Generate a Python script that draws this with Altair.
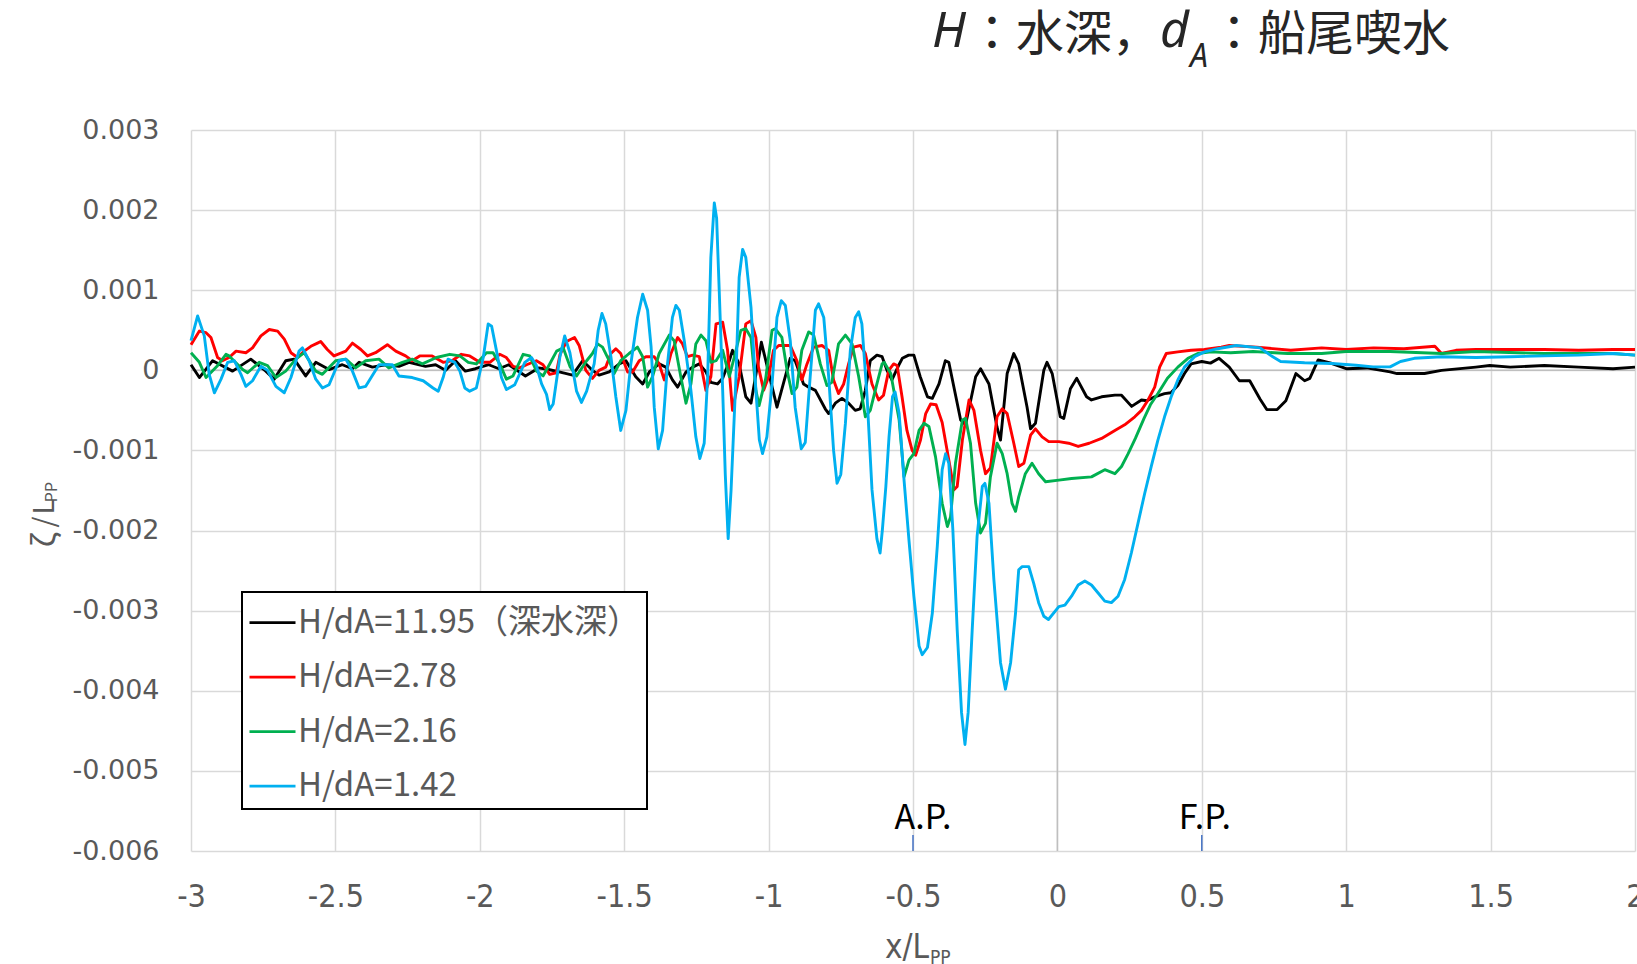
import altair as alt
import pandas as pd

# y values of the series are read in units of 0.001 (zeta / Lpp)
Y_UNIT = 1e-3

black_pts = [
    (-3.000, 0.07), (-2.971, -0.09), (-2.925, 0.12), (-2.856, -0.01), (-2.793, 0.14),
    (-2.741, -0.01), (-2.712, -0.11), (-2.672, 0.12), (-2.643, 0.14), (-2.603, -0.07),
    (-2.568, 0.10), (-2.522, 0.01), (-2.476, 0.07), (-2.441, 0.02), (-2.418, 0.10),
    (-2.372, 0.04), (-2.326, 0.07), (-2.280, 0.05), (-2.245, 0.10), (-2.188, 0.05),
    (-2.153, 0.07), (-2.119, 0.00), (-2.084, 0.12), (-2.050, -0.01), (-2.015, 0.02),
    (-1.969, 0.07), (-1.934, 0.02), (-1.900, 0.07), (-1.842, -0.07), (-1.796, 0.03),
    (-1.762, 0.01), (-1.725, -0.02), (-1.679, -0.06), (-1.644, 0.12), (-1.610, 0.00),
    (-1.587, -0.06), (-1.552, -0.02), (-1.517, 0.08), (-1.494, 0.12), (-1.460, -0.08),
    (-1.436, -0.17), (-1.413, -0.02), (-1.379, 0.08), (-1.356, 0.04), (-1.333, -0.12),
    (-1.315, -0.21), (-1.286, -0.02), (-1.263, 0.04), (-1.240, 0.08), (-1.217, -0.02),
    (-1.200, -0.15), (-1.177, -0.17), (-1.159, -0.10), (-1.136, 0.12), (-1.125, 0.25),
    (-1.102, 0.08), (-1.079, -0.33), (-1.061, -0.41), (-1.025, 0.35), (-0.971, -0.46),
    (-0.925, 0.15), (-0.908, 0.12), (-0.879, -0.17), (-0.861, -0.21), (-0.838, -0.25),
    (-0.804, -0.48), (-0.792, -0.54), (-0.769, -0.41), (-0.746, -0.35), (-0.723, -0.41),
    (-0.700, -0.50), (-0.683, -0.48), (-0.665, -0.25), (-0.648, 0.12), (-0.625, 0.19),
    (-0.607, 0.17), (-0.590, 0.00), (-0.573, -0.12), (-0.550, 0.06), (-0.537, 0.15),
    (-0.515, 0.19), (-0.497, 0.19), (-0.475, -0.08), (-0.450, -0.33), (-0.433, -0.35),
    (-0.410, -0.17), (-0.388, 0.12), (-0.376, 0.10), (-0.335, -0.62), (-0.318, -0.68),
    (-0.283, -0.08), (-0.266, 0.02), (-0.237, -0.17), (-0.209, -0.71), (-0.197, -0.87),
    (-0.174, -0.04), (-0.151, 0.21), (-0.134, 0.08), (-0.105, -0.46), (-0.093, -0.73),
    (-0.076, -0.66), (-0.047, 0.00), (-0.036, 0.10), (-0.018, -0.04), (0.010, -0.58),
    (0.022, -0.60), (0.045, -0.23), (0.067, -0.10), (0.101, -0.33), (0.118, -0.37),
    (0.153, -0.33), (0.199, -0.31), (0.222, -0.31), (0.257, -0.45), (0.291, -0.37),
    (0.310, -0.38), (0.337, -0.33), (0.371, -0.29), (0.393, -0.28), (0.417, -0.19),
    (0.440, -0.04), (0.463, 0.08), (0.500, 0.11), (0.530, 0.09), (0.560, 0.15),
    (0.595, 0.04), (0.630, -0.13), (0.666, -0.13), (0.702, -0.36), (0.725, -0.49),
    (0.761, -0.49), (0.791, -0.38), (0.826, -0.04), (0.856, -0.13), (0.874, -0.10),
    (0.903, 0.13), (0.951, 0.085), (1.000, 0.02), (1.071, 0.03), (1.152, -0.02),
    (1.176, -0.04), (1.271, -0.04), (1.330, 0.00), (1.449, 0.04), (1.497, 0.06),
    (1.568, 0.04), (1.686, 0.06), (1.805, 0.04), (1.924, 0.02), (2.000, 0.04),
]

red_pts = [
    (-3.000, 0.32), (-2.971, 0.49), (-2.948, 0.47), (-2.931, 0.41), (-2.908, 0.16),
    (-2.891, 0.12), (-2.868, 0.16), (-2.844, 0.24), (-2.810, 0.22), (-2.787, 0.28),
    (-2.758, 0.43), (-2.729, 0.51), (-2.700, 0.49), (-2.677, 0.39), (-2.654, 0.22),
    (-2.631, 0.16), (-2.608, 0.24), (-2.585, 0.30), (-2.562, 0.34), (-2.551, 0.36),
    (-2.528, 0.26), (-2.505, 0.18), (-2.464, 0.24), (-2.441, 0.34), (-2.412, 0.26),
    (-2.389, 0.18), (-2.361, 0.22), (-2.320, 0.32), (-2.291, 0.24), (-2.257, 0.18),
    (-2.234, 0.12), (-2.208, 0.18), (-2.165, 0.18), (-2.127, 0.10), (-2.096, 0.12),
    (-2.064, 0.20), (-2.035, 0.18), (-2.000, 0.10), (-1.965, 0.10), (-1.931, 0.20),
    (-1.908, 0.16), (-1.885, 0.05), (-1.862, 0.03), (-1.838, 0.07), (-1.804, 0.12),
    (-1.781, 0.07), (-1.758, -0.05), (-1.735, -0.03), (-1.722, 0.20), (-1.700, 0.36),
    (-1.672, 0.41), (-1.656, 0.31), (-1.633, 0.00), (-1.610, -0.10), (-1.587, 0.00),
    (-1.564, 0.04), (-1.546, 0.21), (-1.529, 0.27), (-1.512, 0.21), (-1.488, -0.02),
    (-1.471, -0.02), (-1.448, 0.12), (-1.425, 0.17), (-1.396, 0.17), (-1.379, 0.08),
    (-1.361, -0.12), (-1.338, 0.21), (-1.315, 0.41), (-1.298, 0.33), (-1.281, 0.17),
    (-1.263, 0.19), (-1.240, 0.17), (-1.217, -0.25), (-1.200, -0.08), (-1.182, 0.58),
    (-1.159, 0.60), (-1.142, 0.25), (-1.125, -0.50), (-1.102, -0.08), (-1.079, 0.58),
    (-1.061, 0.62), (-1.044, 0.41), (-1.035, 0.04), (-1.017, -0.25), (-1.000, -0.08),
    (-0.983, 0.25), (-0.965, 0.31), (-0.925, 0.31), (-0.902, 0.12), (-0.885, -0.12),
    (-0.867, 0.08), (-0.844, 0.29), (-0.815, 0.31), (-0.792, 0.25), (-0.775, -0.12),
    (-0.758, -0.29), (-0.740, -0.17), (-0.723, 0.08), (-0.706, 0.29), (-0.682, 0.31),
    (-0.665, 0.21), (-0.642, -0.17), (-0.619, -0.37), (-0.602, -0.31), (-0.584, 0.00),
    (-0.567, 0.08), (-0.555, 0.06), (-0.538, -0.33), (-0.521, -0.75), (-0.503, -1.00),
    (-0.491, -1.06), (-0.474, -0.87), (-0.456, -0.54), (-0.439, -0.42), (-0.420, -0.43),
    (-0.399, -0.65), (-0.376, -1.12), (-0.358, -1.49), (-0.347, -1.45), (-0.329, -0.87),
    (-0.306, -0.37), (-0.289, -0.50), (-0.266, -1.00), (-0.249, -1.29), (-0.232, -1.22),
    (-0.209, -0.58), (-0.191, -0.48), (-0.174, -0.54), (-0.151, -0.91), (-0.134, -1.20),
    (-0.116, -1.16), (-0.093, -0.81), (-0.076, -0.73), (-0.053, -0.83), (-0.030, -0.89),
    (0.005, -0.89), (0.039, -0.91), (0.072, -0.95), (0.110, -0.91), (0.153, -0.85),
    (0.199, -0.75), (0.233, -0.68), (0.268, -0.58), (0.291, -0.50), (0.314, -0.37),
    (0.337, -0.21), (0.354, 0.04), (0.377, 0.21), (0.417, 0.23), (0.463, 0.25),
    (0.509, 0.26), (0.567, 0.29), (0.595, 0.31), (0.690, 0.29), (0.808, 0.25),
    (0.915, 0.28), (1.000, 0.26), (1.095, 0.28), (1.200, 0.27), (1.307, 0.30),
    (1.330, 0.21), (1.380, 0.25), (1.449, 0.26), (1.568, 0.26), (1.686, 0.26),
    (1.805, 0.25), (1.924, 0.26), (2.000, 0.26),
]

green_pts = [
    (-3.000, 0.22), (-2.971, 0.10), (-2.948, -0.09), (-2.910, 0.05), (-2.879, 0.20),
    (-2.868, 0.18), (-2.821, 0.01), (-2.804, -0.03), (-2.764, 0.10), (-2.735, 0.06),
    (-2.706, -0.09), (-2.672, -0.01), (-2.637, 0.14), (-2.608, 0.22), (-2.568, -0.01),
    (-2.545, -0.05), (-2.499, 0.12), (-2.464, 0.14), (-2.430, 0.03), (-2.395, 0.12),
    (-2.349, 0.14), (-2.315, 0.03), (-2.268, 0.10), (-2.234, 0.14), (-2.199, 0.08),
    (-2.150, 0.16), (-2.104, 0.20), (-2.069, 0.18), (-2.040, 0.10), (-2.012, 0.08),
    (-1.977, 0.22), (-1.954, 0.22), (-1.931, 0.08), (-1.908, -0.11), (-1.885, -0.07),
    (-1.850, 0.20), (-1.827, 0.18), (-1.804, -0.01), (-1.781, -0.07), (-1.758, 0.08),
    (-1.734, 0.24), (-1.711, 0.28), (-1.688, 0.05), (-1.665, -0.07), (-1.630, 0.12),
    (-1.610, 0.21), (-1.592, 0.33), (-1.575, 0.29), (-1.552, 0.12), (-1.535, -0.04),
    (-1.512, 0.12), (-1.483, 0.21), (-1.454, 0.29), (-1.436, 0.17), (-1.419, -0.21),
    (-1.402, -0.08), (-1.379, 0.21), (-1.344, 0.44), (-1.327, 0.37), (-1.304, -0.08),
    (-1.286, -0.41), (-1.269, -0.17), (-1.252, 0.33), (-1.234, 0.44), (-1.217, 0.37),
    (-1.200, 0.10), (-1.182, 0.12), (-1.159, 0.25), (-1.136, -0.08), (-1.113, 0.25),
    (-1.096, 0.50), (-1.079, 0.52), (-1.061, 0.41), (-1.044, -0.25), (-1.033, -0.44),
    (-1.010, -0.10), (-0.988, 0.50), (-0.977, 0.52), (-0.954, 0.41), (-0.936, 0.00),
    (-0.919, -0.29), (-0.902, -0.21), (-0.885, 0.25), (-0.861, 0.48), (-0.844, 0.44),
    (-0.821, 0.08), (-0.798, -0.19), (-0.781, -0.15), (-0.758, 0.33), (-0.734, 0.44),
    (-0.711, 0.33), (-0.688, -0.08), (-0.665, -0.58), (-0.648, -0.50), (-0.625, -0.17),
    (-0.607, 0.08), (-0.600, 0.10), (-0.577, -0.04), (-0.548, -0.62), (-0.531, -1.33),
    (-0.514, -1.12), (-0.497, -1.04), (-0.479, -0.75), (-0.462, -0.66), (-0.445, -0.70),
    (-0.422, -1.08), (-0.399, -1.66), (-0.381, -1.95), (-0.370, -1.83), (-0.353, -1.16),
    (-0.329, -0.62), (-0.318, -0.60), (-0.301, -0.91), (-0.283, -1.66), (-0.266, -2.03),
    (-0.249, -1.91), (-0.232, -1.33), (-0.209, -0.91), (-0.191, -1.04), (-0.174, -1.29),
    (-0.157, -1.66), (-0.145, -1.76), (-0.134, -1.58), (-0.111, -1.29), (-0.088, -1.16),
    (-0.065, -1.29), (-0.041, -1.39), (0.005, -1.37), (0.049, -1.35), (0.118, -1.33),
    (0.164, -1.24), (0.199, -1.29), (0.222, -1.20), (0.245, -1.04), (0.270, -0.85),
    (0.300, -0.60), (0.322, -0.43), (0.348, -0.29), (0.381, -0.10), (0.417, 0.04),
    (0.452, 0.15), (0.486, 0.21), (0.532, 0.23), (0.600, 0.22), (0.678, 0.235),
    (0.797, 0.21), (0.915, 0.21), (1.000, 0.235), (1.152, 0.235), (1.330, 0.21),
    (1.449, 0.235), (1.686, 0.21), (1.924, 0.21), (2.000, 0.19),
]

blue_pts = [
    (-3.000, 0.37), (-2.977, 0.68), (-2.954, 0.43), (-2.937, -0.05), (-2.919, -0.28),
    (-2.896, -0.11), (-2.873, 0.10), (-2.850, 0.12), (-2.827, -0.05), (-2.810, -0.20),
    (-2.787, -0.13), (-2.758, 0.05), (-2.735, 0.00), (-2.706, -0.20), (-2.677, -0.28),
    (-2.654, -0.09), (-2.626, 0.24), (-2.614, 0.28), (-2.591, 0.12), (-2.568, -0.11),
    (-2.545, -0.22), (-2.522, -0.18), (-2.487, 0.12), (-2.464, 0.14), (-2.441, -0.01),
    (-2.418, -0.22), (-2.395, -0.20), (-2.349, 0.07), (-2.303, 0.07), (-2.280, -0.07),
    (-2.234, -0.09), (-2.196, -0.13), (-2.162, -0.22), (-2.144, -0.26), (-2.127, -0.09),
    (-2.110, 0.14), (-2.087, 0.10), (-2.069, -0.01), (-2.052, -0.22), (-2.035, -0.26),
    (-2.012, -0.22), (-1.988, 0.16), (-1.971, 0.58), (-1.959, 0.55), (-1.942, 0.24),
    (-1.925, -0.09), (-1.908, -0.24), (-1.879, -0.18), (-1.844, 0.10), (-1.821, 0.16),
    (-1.804, 0.06), (-1.786, -0.17), (-1.769, -0.30), (-1.758, -0.49), (-1.746, -0.42),
    (-1.723, 0.16), (-1.706, 0.43), (-1.688, 0.22), (-1.665, -0.26), (-1.648, -0.40),
    (-1.630, -0.26), (-1.604, 0.08), (-1.590, 0.50), (-1.577, 0.71), (-1.564, 0.58),
    (-1.546, 0.17), (-1.529, -0.33), (-1.512, -0.75), (-1.494, -0.50), (-1.477, 0.08),
    (-1.454, 0.66), (-1.436, 0.95), (-1.419, 0.75), (-1.407, 0.30), (-1.396, -0.46),
    (-1.382, -0.98), (-1.367, -0.75), (-1.350, 0.08), (-1.333, 0.66), (-1.321, 0.81),
    (-1.309, 0.75), (-1.292, 0.37), (-1.269, -0.25), (-1.252, -0.83), (-1.238, -1.10),
    (-1.223, -0.91), (-1.211, -0.08), (-1.200, 1.41), (-1.188, 2.09), (-1.180, 1.90),
    (-1.171, 1.00), (-1.159, -0.25), (-1.150, -1.30), (-1.140, -2.10), (-1.130, -1.50),
    (-1.113, -0.08), (-1.102, 1.16), (-1.090, 1.51), (-1.079, 1.41), (-1.061, 0.79),
    (-1.044, -0.25), (-1.032, -0.87), (-1.021, -1.04), (-1.006, -0.83), (-0.988, -0.17),
    (-0.971, 0.66), (-0.956, 0.87), (-0.942, 0.81), (-0.925, 0.37), (-0.908, -0.46),
    (-0.887, -0.98), (-0.873, -0.90), (-0.856, -0.08), (-0.838, 0.75), (-0.827, 0.83),
    (-0.809, 0.66), (-0.792, -0.08), (-0.775, -1.00), (-0.763, -1.41), (-0.750, -1.30),
    (-0.734, -0.66), (-0.717, 0.25), (-0.700, 0.66), (-0.688, 0.73), (-0.677, 0.58),
    (-0.659, -0.33), (-0.642, -1.49), (-0.625, -2.10), (-0.614, -2.28), (-0.606, -1.99),
    (-0.594, -1.45), (-0.583, -0.83), (-0.571, -0.33), (-0.562, -0.27), (-0.548, -0.54),
    (-0.531, -1.37), (-0.514, -2.12), (-0.497, -2.82), (-0.479, -3.44), (-0.468, -3.55),
    (-0.450, -3.46), (-0.433, -3.03), (-0.416, -2.20), (-0.399, -1.24), (-0.387, -1.04),
    (-0.376, -1.16), (-0.362, -1.99), (-0.347, -3.24), (-0.332, -4.27), (-0.320, -4.67),
    (-0.309, -4.27), (-0.295, -3.24), (-0.278, -2.07), (-0.260, -1.45), (-0.251, -1.41),
    (-0.237, -1.66), (-0.220, -2.61), (-0.197, -3.65), (-0.180, -3.98), (-0.162, -3.65),
    (-0.145, -3.03), (-0.134, -2.49), (-0.122, -2.45), (-0.099, -2.45), (-0.082, -2.66),
    (-0.065, -2.90), (-0.047, -3.07), (-0.031, -3.11), (0.005, -2.95), (0.026, -2.93),
    (0.049, -2.82), (0.072, -2.68), (0.095, -2.63), (0.118, -2.68), (0.141, -2.78),
    (0.164, -2.88), (0.187, -2.90), (0.210, -2.82), (0.233, -2.61), (0.256, -2.28),
    (0.279, -1.91), (0.302, -1.54), (0.325, -1.20), (0.348, -0.87), (0.371, -0.58),
    (0.394, -0.33), (0.417, -0.12), (0.440, 0.04), (0.475, 0.17), (0.509, 0.23),
    (0.555, 0.27), (0.619, 0.31), (0.702, 0.28), (0.737, 0.19), (0.773, 0.11),
    (0.856, 0.094), (0.951, 0.085), (1.034, 0.064), (1.093, 0.043), (1.152, 0.043),
    (1.188, 0.11), (1.236, 0.15), (1.330, 0.17), (1.449, 0.16), (1.568, 0.17),
    (1.686, 0.18), (1.805, 0.19), (1.924, 0.21), (2.000, 0.19),
]

series_labels = ["H/dA=11.95（深水深）", "H/dA=2.78", "H/dA=2.16", "H/dA=1.42"]
series_colors = ["#000000", "#FF0000", "#00B050", "#00B0F0"]
series_points = [black_pts, red_pts, green_pts, blue_pts]

x_ticks = [-3, -2.5, -2, -1.5, -1, -0.5, 0, 0.5, 1, 1.5, 2]
y_ticks = [-0.006, -0.005, -0.004, -0.003, -0.002, -0.001, 0, 0.001, 0.002, 0.003]

marker_x = [-0.5, 0.5]
marker_labels = ["A.P.", "F.P."]
marker_label_dx = [10, 3]
marker_label_y = [-0.0056, -0.0056]
marker_tick_top = [-0.0058, -0.0058]
marker_tick_bottom = [-0.006, -0.006]

CJK = "Noto Sans CJK JP"
COND = "'DejaVu Sans Condensed', 'Liberation Sans Narrow', 'Noto Sans CJK JP', sans-serif"
PLAIN = "'DejaVu Sans', 'Noto Sans CJK JP', sans-serif"
LABEL_GRAY = "#595959"

x_scale = alt.Scale(domain=[-3, 2], nice=False, zero=False)
y_scale = alt.Scale(domain=[-0.006, 0.003], nice=False, zero=False)

x_axis = alt.Axis(values=x_ticks, labelExpr="datum.value + ''", title=None,
                  grid=True, gridColor="#d9d9d9", gridWidth=1.5,
                  domain=False, ticks=False, labelFlush=False, labelOverlap=False,
                  labelFont=COND, labelFontSize=32,
                  labelColor=LABEL_GRAY, labelPadding=30)
y_axis = alt.Axis(values=y_ticks, labelExpr="datum.value + ''", title=None,
                  grid=True, gridColor="#d9d9d9", gridWidth=1.5,
                  domain=False, ticks=False, labelFlush=False, labelOverlap=False,
                  labelFont=PLAIN, labelFontSize=27, labelColor=LABEL_GRAY,
                  labelPadding=32)


def X(field):
    return alt.X(f"{field}:Q", scale=x_scale, axis=x_axis)


def Y(field):
    return alt.Y(f"{field}:Q", scale=y_scale, axis=y_axis)


legend = alt.Legend(title=None, orient="none", legendX=51, legendY=462,
                    symbolType="stroke", symbolSize=2116, symbolStrokeWidth=2.75,
                    labelFont=CJK, labelFontSize=33, labelColor=LABEL_GRAY,
                    labelExpr="datum.label + '\u2003\u2002'",
                    labelLimit=900, labelOffset=1, rowPadding=12.5, padding=6,
                    strokeColor="#000000", fillColor="#ffffff")
color_enc = alt.Color("series:N", scale=alt.Scale(domain=series_labels, range=series_colors),
                      sort=series_labels, legend=legend)

layers = []

# zero lines (axis crossings)
layers.append(alt.Chart(pd.DataFrame({"x": [0]})).mark_rule(color="#bfbfbf", strokeWidth=1.5)
              .encode(x=X("x")))
layers.append(alt.Chart(pd.DataFrame({"y": [0]})).mark_rule(color="#bfbfbf", strokeWidth=1.5)
              .encode(y=Y("y")))

for label, pts in zip(series_labels, series_points):
    df = pd.DataFrame({
        "x": [p[0] for p in pts],
        "y": [p[1] * Y_UNIT for p in pts],
        "series": label,
        "i": list(range(len(pts))),
    })
    layers.append(alt.Chart(df).mark_line(strokeWidth=2.9, strokeJoin="round")
                  .encode(x=X("x"), y=Y("y"), color=color_enc, order="i:Q"))

# A.P. / F.P. markers
mdf = pd.DataFrame({"x": marker_x, "lab": marker_labels, "ly": marker_label_y,
                    "t0": marker_tick_bottom, "t1": marker_tick_top})
layers.append(alt.Chart(mdf).mark_rule(color="#4472C4", strokeWidth=1.5)
              .encode(x=X("x"), y=Y("t0"), y2="t1:Q"))
for k in range(len(marker_x)):
    layers.append(alt.Chart(mdf.iloc[[k]]).mark_text(font=CJK, fontSize=34, color="#000000",
                                                     dx=marker_label_dx[k],
                                                     baseline="middle", align="center")
                  .encode(x=X("x"), y=Y("ly"), text="lab:N"))


def txt(s, x, y, size, style="normal", font=CJK, color="#262626", align="left",
        baseline="alphabetic", angle=0):
    return (alt.Chart(pd.DataFrame({"t": [s]}))
            .mark_text(font=font, fontSize=size, fontStyle=style, color=color,
                       align=align, baseline=baseline, angle=angle)
            .encode(text="t:N", x=alt.value(x), y=alt.value(y)))


# title: H：水深，d_A：船尾喫水
layers.append(txt("H", 741, -83, 50, style="italic", font="Noto Sans"))
layers.append(txt("：水深，", 777, -80, 48))
layers.append(txt("d", 969, -83, 50, style="italic", font="Noto Sans"))
layers.append(txt("A", 999, -63, 32, style="italic", font="Noto Sans"))
layers.append(txt("：船尾喫水", 1019, -80, 48))

# x axis title x/L_PP
layers.append(txt("x/L", 738, 818, 33, font=COND, color=LABEL_GRAY,
                  align="right", baseline="middle"))
layers.append(txt("PP", 739, 828, 19, font=COND, color=LABEL_GRAY,
                  baseline="middle"))

# y axis title ζ/L_PP (rotated, reading upward)
layers.append(txt("ζ", -145, 410, 31, color=LABEL_GRAY, align="center",
                  baseline="middle", angle=270))
layers.append(txt("/", -145, 392, 28, color=LABEL_GRAY, align="center",
                  baseline="middle", angle=270))
layers.append(txt("L", -145, 377, 28, color=LABEL_GRAY, align="center",
                  baseline="middle", angle=270))
layers.append(txt("PP", -139, 362, 16, color=LABEL_GRAY, align="center",
                  baseline="middle", angle=270))

chart = alt.layer(*layers).properties(
    width=1444, height=721,
    autosize=alt.AutoSizeParams(type="none"),
    padding={"left": 191, "top": 130, "right": 2, "bottom": 113},
    background="#ffffff",
).configure_view(stroke=None).configure_legend(strokeWidth=2)

chart.save("out.html", embed_options={"renderer": "svg", "actions": False})
